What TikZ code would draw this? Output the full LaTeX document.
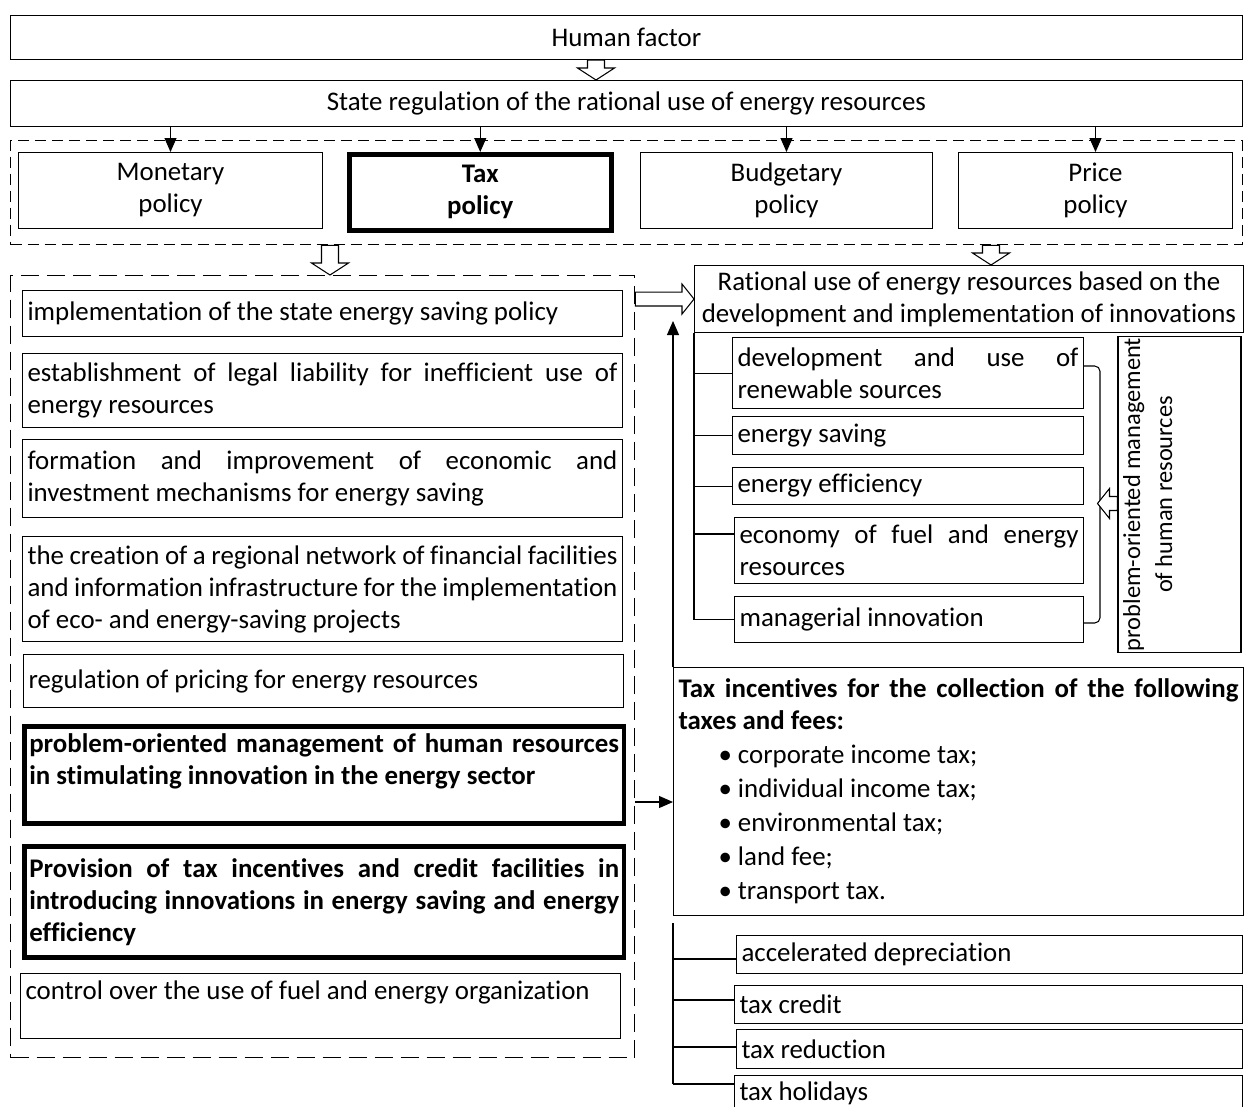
\documentclass[tikz,border=0pt]{standalone}
\usepackage{fontspec}
\setmainfont{Carlito}[Ligatures=NoCommon]
\usetikzlibrary{arrows.meta,calc,positioning}
\hyphenpenalty=10000
\exhyphenpenalty=10000
\newcommand{\boxfont}{\fontsize{15.3}{18.2}\selectfont}
% hollow block arrows
\newcommand{\blockdown}[2]{%
  \draw[fill=white] let \p1=#1, \p2=#2 in
    ({\x1-0.17cm},\y1) -- ({\x1-0.17cm},{\y2+0.24cm}) -- ({\x1-0.37cm},{\y2+0.24cm}) -- (\x1,\y2)
    -- ({\x1+0.37cm},{\y2+0.24cm}) -- ({\x1+0.17cm},{\y2+0.24cm}) -- ({\x1+0.17cm},\y1) -- cycle;}
\newcommand{\blockside}[3]{%
  \draw[fill=white] let \p1=#1, \p2=#2 in
    (\x1,{\y2-0.14cm}) -- ({\x2-(#3)},{\y2-0.14cm}) -- ({\x2-(#3)},{\y2-0.3cm}) -- (\x2,\y2)
    -- ({\x2-(#3)},{\y2+0.3cm}) -- ({\x2-(#3)},{\y2+0.14cm}) -- (\x1,{\y2+0.14cm}) -- cycle;}
\tikzset{
  box/.style={draw, rectangle, anchor=north west, inner xsep=0.1cm, inner ysep=0.05cm, font=\boxfont},
  thickbox/.style={box, line width=2.6pt, font=\boxfont\bfseries},
  lbox/.style={box, minimum width=12cm, text width=11.8cm, align=justify},
  dashbox/.style={draw, rectangle, anchor=north west, line width=0.8pt, dash pattern=#1},
  arr/.style={-{Triangle[length=0.28cm,width=0.24cm]}},
}

\begin{document}
\begin{tikzpicture}[x=0.02cm, y=-0.02cm, line width=0.6pt]
    \useasboundingbox (0,0) rectangle (1244,1106);
    %Top
    \node[box, minimum width=24.64cm, minimum height=0.88cm] (hf) at (10,15) {Human factor};
    \node[box, minimum width=24.64cm, minimum height=0.92cm] (sr) at (10,80) {State regulation of the rational use of energy resources};
    \blockdown{(596,0 |- hf.south)}{(596,0 |- sr.north)}
    %Policies
    \node[dashbox={on 0.22cm off 0.12cm}, minimum width=24.64cm, minimum height=2.08cm] (pol) at (10,140) {};
    \node[box, align=center, minimum width=6.08cm, minimum height=1.52cm] (mon) at (18,152) {Monetary\\policy};
    \node[thickbox, align=center, minimum width=5.24cm, minimum height=1.52cm] (tax) at (347,152) {Tax\\policy};
    \node[box, align=center, minimum width=5.84cm, minimum height=1.52cm] (bud) at (640,152) {Budgetary\\policy};
    \node[box, align=center, minimum width=5.48cm, minimum height=1.52cm] (pri) at (958,152) {Price\\policy};
    \foreach \p in {mon,tax,bud,pri}
        \draw[arr] (sr.south -| \p.north) -- (\p.north);
    %Tax policy tasks
    \node[dashbox={on 0.36cm off 0.16cm}, minimum width=12.48cm, minimum height=15.64cm] (lst) at (10,275) {};
    \blockdown{(330,0 |- pol.south)}{(330,0 |- lst.north)}
    \node[lbox, minimum height=0.92cm] (i1) at (22,290) {implementation of the state energy saving policy};
    \node[lbox, minimum height=1.48cm] (i2) at (22,353) {establishment of legal liability for inefficient use of\linebreak energy resources};
    \node[lbox, minimum height=1.56cm] (i3) at (22,439) {formation and improvement of economic and\linebreak investment mechanisms for energy saving};
    \node[lbox, minimum height=2.10cm] (i4) at (22,536) {the creation of a regional network of financial facilities\linebreak and information infrastructure for the implementation\linebreak of eco- and energy-saving projects};
    \node[lbox, minimum height=1.06cm] (i5) at (23,654) {regulation of pricing for energy resources};
    \node[lbox, thickbox, minimum height=1.94cm] (i6) at (22,724) {problem-oriented management of human resources\linebreak in stimulating innovation in the energy sector\newline\mbox{}};
    \node[lbox, thickbox, minimum height=2.22cm] (i7) at (22,844) {Provision of tax incentives and credit facilities in\linebreak introducing innovations in energy saving and energy\linebreak efficiency};
    \node[lbox, minimum height=1.30cm] (i8) at (20,973) {control over the use of fuel and energy organization\newline\mbox{}};
    %Innovations
    \node[box, align=center, minimum width=10.98cm, minimum height=1.34cm] (ri) at (694,265) {Rational use of energy resources based on the\\development and implementation of innovations};
    \blockdown{(991,0 |- pol.south)}{(991,0 |- ri.north)}
    \blockside{(lst.east |- ri.west)}{(ri.west)}{0.24cm}
    \node[box, minimum width=7.02cm, minimum height=1.42cm, text width=6.82cm, align=justify] (b1) at (732,337) {development and use of\linebreak renewable sources};
    \node[box, minimum width=7.02cm, minimum height=0.76cm, text width=6.82cm, align=flush left] (b2) at (732,416) {energy saving};
    \node[box, minimum width=7.02cm, minimum height=0.74cm, text width=6.82cm, align=flush left] (b3) at (732,467) {energy efficiency};
    \node[box, minimum width=6.98cm, minimum height=1.32cm, text width=6.78cm, align=justify] (b4) at (734,517) {economy of fuel and energy\linebreak resources};
    \node[box, minimum width=6.98cm, minimum height=0.92cm, text width=6.78cm, align=flush left] (b5) at (734,596) {managerial innovation};
    \draw (ri.south west) -- (ri.south west |- b5.west);
    \foreach \b in {b1,b2,b3,b5}
        \draw (ri.south west |- \b.west) -- (\b.west);
    \draw (ri.south west |- 0,534) -- (b4.west |- 0,534);
    %Human resources
    \node[box, anchor=center, rotate=90, align=center, font=\fontsize{13.9}{18.2}\selectfont, inner xsep=0.02cm, inner ysep=0.02cm, minimum width=6.3cm, minimum height=2.46cm] (pom) at (1179.5,494.5) {problem-oriented management\\of human resources\\\mbox{}\\\mbox{}};
    \coordinate (brk) at (1100,494);
    \draw[rounded corners=3pt] (b1.east |- 0,366) -| (brk) |- (b5.east |- 0,623);
    \blockside{([yshift=-0.18cm]pom.north)}{([xshift=-0.4cm,yshift=-0.18cm]pom.north)}{-0.24cm}
    %Tax incentives
    \node[box, minimum width=11.4cm, minimum height=4.96cm, text width=11.2cm, align=justify] (ti) at (673,667) {\textbf{Tax incentives for the collection of the following\linebreak taxes and fees:}\\[1.2pt]
        \hspace*{0.8cm}\textbullet\ corporate income tax;\\[1.2pt]
        \hspace*{0.8cm}\textbullet\ individual income tax;\\[1.2pt]
        \hspace*{0.8cm}\textbullet\ environmental tax;\\[1.2pt]
        \hspace*{0.8cm}\textbullet\ land fee;\\[1.2pt]
        \hspace*{0.8cm}\textbullet\ transport tax.};
    \draw[arr] (ti.north west) -- (ti.north west |- 0,321);
    \draw[arr] (lst.east |- 0,802) -- (ti.west |- 0,802);
    %Incentive forms
    \node[box, minimum width=10.12cm, minimum height=0.76cm, text width=9.92cm, align=flush left] (c1) at (736,935) {accelerated depreciation};
    \node[box, minimum width=10.16cm, minimum height=0.76cm, text width=9.96cm, align=flush left] (c2) at (734,985) {tax credit};
    \node[box, minimum width=10.12cm, minimum height=0.78cm, text width=9.92cm, align=flush left] (c3) at (736,1029) {tax reduction};
    \node[box, minimum width=10.16cm, minimum height=0.72cm, text width=9.96cm, align=flush left] (c4) at (734,1075) {tax holidays};
    \draw ([yshift=-0.14cm]ti.south west) -- (ti.south west |- 0,1084);
    \foreach \c/\yy in {c1/959,c2/1000,c3/1047,c4/1084}
        \draw (ti.south west |- 0,\yy) -- (\c.west |- 0,\yy);
\end{tikzpicture}
\end{document}
